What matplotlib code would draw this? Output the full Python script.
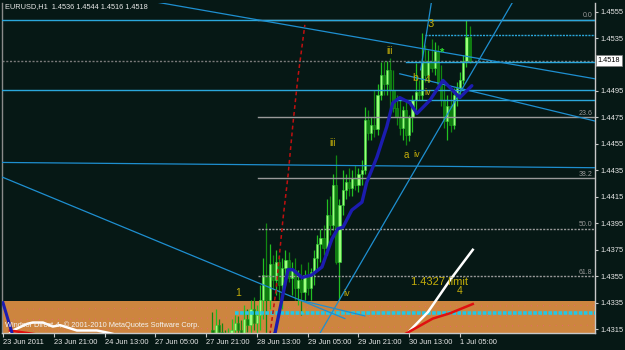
import matplotlib
matplotlib.use('Agg')
import matplotlib.pyplot as plt
import matplotlib.transforms as mtransforms

plt.rcParams['font.family'] = ['Liberation Sans', 'DejaVu Sans']

# ---------------- data ----------------
first_bar = 66
opens = [1.4314, 1.4311, 1.4318, 1.4313, 1.4308, 1.4303, 1.4311, 1.4314, 1.4320, 1.4314,
         1.4311, 1.4323, 1.4318, 1.4330, 1.4320, 1.4326, 1.4337, 1.4356, 1.4337, 1.4364,
         1.4352, 1.4366, 1.4348, 1.4361, 1.4367, 1.4354, 1.4360, 1.4346, 1.4352, 1.4343,
         1.4356, 1.4346, 1.4358, 1.4369, 1.4379, 1.4384, 1.4376, 1.4401, 1.4394, 1.4424,
         1.4366, 1.4409, 1.4420, 1.4426, 1.4422, 1.4429, 1.4424, 1.4432, 1.4435, 1.4473,
         1.4463, 1.4469, 1.4466, 1.4492, 1.4507, 1.4500, 1.4511, 1.4496, 1.4482, 1.4475,
         1.4467, 1.4481, 1.4462, 1.4475, 1.4488, 1.4494, 1.4492, 1.4517, 1.4507, 1.4518,
         1.4512, 1.4525, 1.4500, 1.4488, 1.4472, 1.4484, 1.4469, 1.4492, 1.4497, 1.4503,
         1.4518, 1.4536]
highs = [1.4328, 1.4330, 1.4323, 1.4320, 1.4314, 1.4316, 1.4323, 1.4326, 1.4325, 1.4322,
         1.4333, 1.4330, 1.4337, 1.4339, 1.4333, 1.4348, 1.4369, 1.4395, 1.4379, 1.4371,
         1.4375, 1.4371, 1.4369, 1.4375, 1.4373, 1.4366, 1.4369, 1.4360, 1.4364, 1.4360,
         1.4366, 1.4361, 1.4375, 1.4386, 1.4391, 1.4394, 1.4413, 1.4416, 1.4432, 1.4447,
         1.4413, 1.4435, 1.4432, 1.4437, 1.4435, 1.4439, 1.4437, 1.4443, 1.4483, 1.4481,
         1.4475, 1.4496, 1.4500, 1.4517, 1.4518, 1.4518, 1.4520, 1.4511, 1.4492, 1.4488,
         1.4484, 1.4488, 1.4477, 1.4492, 1.4516, 1.4503, 1.4539, 1.4530, 1.4526, 1.4534,
         1.4532, 1.4530, 1.4515, 1.4503, 1.4492, 1.4496, 1.4497, 1.4502, 1.4509, 1.4522,
         1.4549, 1.4544]
lows = [1.4303, 1.4303, 1.4307, 1.4303, 1.4299, 1.4299, 1.4305, 1.4308, 1.4311, 1.4307,
        1.4307, 1.4313, 1.4311, 1.4314, 1.4311, 1.4314, 1.4323, 1.4311, 1.4330, 1.4345,
        1.4341, 1.4337, 1.4330, 1.4348, 1.4351, 1.4341, 1.4337, 1.4333, 1.4326, 1.4337,
        1.4341, 1.4337, 1.4348, 1.4360, 1.4366, 1.4371, 1.4371, 1.4386, 1.4390, 1.4364,
        1.4337, 1.4401, 1.4413, 1.4416, 1.4416, 1.4420, 1.4419, 1.4424, 1.4432, 1.4458,
        1.4458, 1.4460, 1.4462, 1.4488, 1.4492, 1.4492, 1.4481, 1.4479, 1.4469, 1.4462,
        1.4458, 1.4454, 1.4457, 1.4464, 1.4481, 1.4488, 1.4488, 1.4502, 1.4502, 1.4509,
        1.4507, 1.4496, 1.4484, 1.4467, 1.4458, 1.4464, 1.4466, 1.4484, 1.4490, 1.4500,
        1.4513, 1.4516]
closes = [1.4311, 1.4318, 1.4313, 1.4308, 1.4303, 1.4311, 1.4314, 1.4320, 1.4314, 1.4311,
          1.4323, 1.4318, 1.4330, 1.4320, 1.4326, 1.4337, 1.4356, 1.4337, 1.4364, 1.4352,
          1.4366, 1.4348, 1.4361, 1.4367, 1.4354, 1.4360, 1.4346, 1.4352, 1.4343, 1.4356,
          1.4346, 1.4358, 1.4369, 1.4379, 1.4384, 1.4376, 1.4401, 1.4394, 1.4424, 1.4366,
          1.4409, 1.4420, 1.4426, 1.4422, 1.4429, 1.4424, 1.4432, 1.4435, 1.4473, 1.4463,
          1.4469, 1.4466, 1.4492, 1.4507, 1.4500, 1.4511, 1.4496, 1.4482, 1.4475, 1.4467,
          1.4481, 1.4462, 1.4475, 1.4488, 1.4494, 1.4492, 1.4517, 1.4507, 1.4518, 1.4512,
          1.4525, 1.4500, 1.4488, 1.4472, 1.4484, 1.4469, 1.4492, 1.4497, 1.4503, 1.4518,
          1.4536, 1.4518]

ma_bars = [82, 85.7, 89.8, 91.3, 94.2, 97.3, 100.5, 103.6, 105.5, 107.1, 109.9, 113.1,
           114.6, 117.8, 120.9, 122.8, 125, 128.2, 130.4, 134.5, 138.6, 143.9, 147.7]
ma_vals = [1.4303, 1.4312, 1.4360, 1.4360, 1.4354, 1.4356, 1.4362, 1.4383, 1.4391, 1.4392,
           1.4405, 1.4411, 1.4426, 1.4445, 1.4468, 1.4486, 1.4490, 1.4486, 1.4478, 1.4488,
           1.4503, 1.4490, 1.4499]
ma_left_bars = [0, 3, 4]
ma_left_vals = [1.4335, 1.4311, 1.4300]

white_left_bars = [0.6, 3.1, 7.6, 9.4, 12.6, 15.7, 18, 23.3, 29.6, 33.7, 38.4]
white_left_vals = [1.4308, 1.4314, 1.4319, 1.4320, 1.4320, 1.4317, 1.4318, 1.4314, 1.4314, 1.4312, 1.4309]
red_left_bars = [2.2, 10.7]
red_left_vals = [1.4314, 1.4311]
white_right_bars = [126.6, 133.9, 140.8, 148]
white_right_vals = [1.4310, 1.4328, 1.4352, 1.4375]
red_right_bars = [125.7, 135.4, 140.8, 148]
red_right_vals = [1.4310, 1.4323, 1.4327, 1.4334]

red_dash_bars = [84.1, 86.0, 88.2, 89.8, 91.3, 92.9, 95.1]
red_dash_vals = [1.4311, 1.4344, 1.4398, 1.4431, 1.4469, 1.4505, 1.4545]

# trend lines: (bar0, price0, bar1, price1)
trend_lines = [
    (44, 1.4564, 187, 1.4504),
    (125, 1.4508, 187, 1.4472),
    (96, 1.4296, 161, 1.4564),
    (135.1, 1.4564, 131.6, 1.4511),
    (-0.3, 1.4430, 107.7, 1.4323),
    (93.5, 1.4337, 114.0, 1.4325),
    (-0.3, 1.4441, 187, 1.4437),
]

# horizontal levels: (price, start bar)
cyan_levels = [(1.4549, -0.3), (1.4496, -0.3), (1.4488, 123.5), (1.4517, 127)]
cyan_dotted_levels = [(1.4537, 133)]
fib_start = 80.3
fib_levels = [1.4549, 1.4475, 1.4429, 1.4391, 1.4355]
fib_names = ['0.0', '23.6', '38.2', '50.0', '61.8']
zone_top = 1.4336
limit_price = 1.4327
limit_start = 73
last_price = 1.4518

ytick_vals = [1.4315, 1.4335, 1.4355, 1.4375, 1.4395, 1.4415, 1.4435, 1.4455,
              1.4475, 1.4495, 1.4515, 1.4535, 1.4555]
xtick_bars = [0, 16, 32, 48, 64, 80, 96, 112, 128, 144]
xtick_labels = ['23 Jun 2011', '23 Jun 21:00', '24 Jun 13:00', '27 Jun 05:00',
                '27 Jun 21:00', '28 Jun 13:00', '29 Jun 05:00', '29 Jun 21:00',
                '30 Jun 13:00', '1 Jul 05:00']

wave_labels = [
    ('1', 74, 1.4342, 7.5),
    ('iii', 103.9, 1.4456, 7),
    ('iii', 121.9, 1.4525, 7),
    ('b', 129.8, 1.4505, 7.5),
    ('4', 133.9, 1.4503, 7.5),
    ('iv', 133.9, 1.4494, 6.5),
    ('3', 134.8, 1.4546, 8),
    ('a', 127.2, 1.4447, 7),
    ('iv', 130.4, 1.4447, 6.5),
    ('iv', 108.3, 1.4342, 6.5),
    ('1.4327 limit', 137.6, 1.4351, 8),
    ('4', 144, 1.4344, 7.5),
    ('ii', 95, 1.4328, 5.5),
]

# ---------------- style ----------------
BG = '#061815'
YEL = '#C4AE0A'
CYAN = '#2BA8DC'

fig = plt.figure(figsize=(6.25, 3.5), dpi=100, facecolor=BG)
ax = fig.add_axes([2 / 625, 17 / 350, 593 / 625, 330 / 350])
ax.set_facecolor(BG)
ax.set_xlim(-0.3, 186.5)
ax.set_ylim(1.43121, 1.45615)

# orange zone
ax.axhspan(1.4290, zone_top, color='#CD853F', zorder=0.5, lw=0)
for y0, y1 in [(1.4330, 1.4333), (1.4322, 1.4326), (1.4314, 1.4318)]:
    ax.plot([-0.3, 186.5], [y0, y1], color='#F0607A', lw=0.8,
            linestyle=(0, (0.6, 5)), zorder=0.6)

# candles
bars = list(range(first_bar, first_bar + len(closes)))
for b, o, h, l, c in zip(bars, opens, highs, lows, closes):
    bull = c >= o
    wick_col = '#22C022' if bull else '#118811'
    ax.vlines(b, l, h, color=wick_col, lw=0.9, zorder=2)
    body_lo, body_hi = min(o, c), max(o, c)
    if body_hi - body_lo < 0.00004:
        body_hi = body_lo + 0.00004
    ax.bar(b, body_hi - body_lo, bottom=body_lo, width=0.7,
           color='#9CFF7C' if bull else '#0E7E0E',
           edgecolor='#33D633' if bull else '#1A9A1A', lw=0.4, zorder=2.2)

# levels
for p, s in cyan_levels:
    ax.plot([s, 187], [p, p], color=CYAN, lw=1.0, zorder=3)
for p, s in cyan_dotted_levels:
    ax.plot([s, 187], [p, p], color=CYAN, lw=1.0, linestyle=(0, (1.5, 0.8)), zorder=3)
ax.plot([-0.3, 187], [last_price, last_price], color='#7A7A7A', lw=1.0,
        linestyle=(0, (1.5, 1.2)), zorder=2.5)
ax.plot([47, 187], [1.4562, 1.4562], color='#7A7A7A', lw=1.2,
        linestyle=(0, (1.5, 1.2)), zorder=2.5)
for i, p in enumerate(fib_levels):
    ls = '-' if i < 3 else (0, (1.5, 1.0))
    ax.plot([fib_start, 187], [p, p], color='#9A9A9A', lw=1.0, linestyle=ls, zorder=2.6)
    ax.text(185.6, p + 0.00028, fib_names[i], color='#9A9A9A', fontsize=5,
            ha='right', va='center', zorder=4)

# limit line
ax.plot([limit_start, 187], [limit_price, limit_price], color='#22C8E6', lw=2.6,
        linestyle=(0, (1.0, 0.4)), zorder=3)

# trend lines
for b0, p0, b1, p1 in trend_lines:
    ax.plot([b0, b1], [p0, p1], color='#1E8FD0', lw=0.9, zorder=3)

# red dashed
ax.plot(red_dash_bars, red_dash_vals, color='#C01010', lw=1.1,
        linestyle=(0, (2.5, 2)), zorder=3)

# MA
ax.plot(ma_bars, ma_vals, color='#1C1CB0', lw=2.4, zorder=3.5, solid_capstyle='round')
ax.plot(ma_left_bars, ma_left_vals, color='#1C1CB0', lw=2.2, zorder=3.5)

# bottom indicator lines
ax.plot(white_left_bars, white_left_vals, color='white', lw=1.8, zorder=3.4)
ax.plot(red_left_bars, red_left_vals, color='#E01010', lw=1.8, zorder=3.4)
ax.plot(white_right_bars, white_right_vals, color='white', lw=1.8, zorder=3.4)
ax.plot(red_right_bars, red_right_vals, color='#E01010', lw=1.8, zorder=3.4)

# labels
for t, b, p, fs in wave_labels:
    ax.text(b, p, t, color=YEL, fontsize=fs, ha='center', va='center', zorder=5)
ax.text(138.3, 1.4524, '*', color='#30E030', fontsize=8, ha='center', va='center',
        fontweight='bold', zorder=5)

ax.text(0.7, 1.4559, 'EURUSD,H1  1.4536 1.4544 1.4516 1.4518', color='#E8E8E8',
        fontsize=5.3, ha='left', va='center', zorder=6)
ax.text(0.7, 1.4318, 'Windsor Direct-4, \u00a9 2001-2010 MetaQuotes Software Corp.',
        color='#F4F4F4', fontsize=5.3, ha='left', va='center', zorder=6)

# axes styling
ax.spines['top'].set_visible(False)
ax.spines['right'].set_color('#C8C8C8')
ax.spines['bottom'].set_color('#C8C8C8')
ax.spines['left'].set_color('#8A8A8A')
for sp in ax.spines.values():
    sp.set_linewidth(1.0)

ax.yaxis.tick_right()
ax.set_yticks(ytick_vals)
ax.set_yticklabels(['' if abs(v - 1.4515) < 1e-6 else f'{v:.4f}' for v in ytick_vals])
ax.tick_params(axis='y', colors='#C8C8C8', labelcolor='#E8E8E8', labelsize=5.4,
               length=2, pad=2, width=0.8)
ax.set_xticks(xtick_bars)
ax.set_xticklabels(xtick_labels, ha='left')
ax.tick_params(axis='x', colors='#C8C8C8', labelcolor='#E8E8E8', labelsize=5.4,
               length=3, pad=1.5, width=0.8)

trans = mtransforms.blended_transform_factory(ax.transAxes, ax.transData)
ax.text(1.004, last_price, '1.4518', transform=trans, color='black', fontsize=5.3,
        ha='left', va='center', zorder=10, clip_on=False,
        bbox=dict(boxstyle='square,pad=0.25', fc='white', ec='#808080', lw=0.5))

fig.savefig('out.png', dpi=100, facecolor=BG)
